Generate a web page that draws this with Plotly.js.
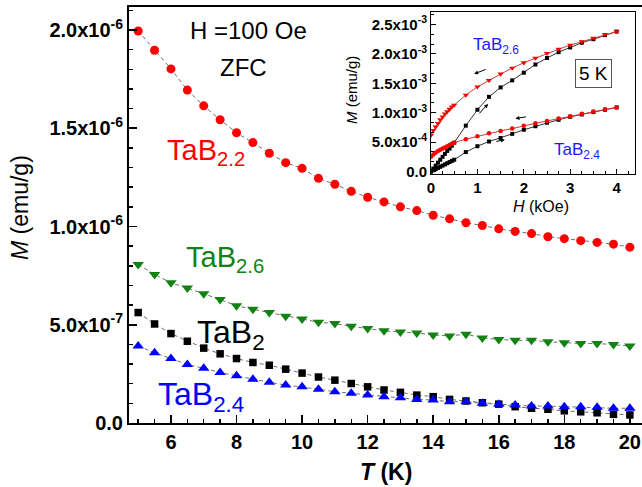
<!DOCTYPE html>
<html>
<head>
<meta charset="utf-8">
<script src="https://cdn.plot.ly/plotly-3.0.1.min.js"></script>
<style>html,body{margin:0;padding:0;background:#fff;}#chart{width:642px;height:487px;}</style>
</head>
<body>
<div id="chart"></div>
<script>
// ---- Main panel data: T (K) and M (units of 1e-6 emu/g) ----
var temperature = [5,5.5,6,6.5,7,7.5,8,8.5,9,9.5,10,10.5,11,11.5,12,12.5,13,13.5,14,14.5,15,15.5,16,16.5,17,17.5,18,18.5,19,19.5,20];
var mTaB22 = [1.995,1.897,1.802,1.694,1.614,1.543,1.477,1.427,1.373,1.325,1.296,1.245,1.215,1.179,1.149,1.125,1.100,1.081,1.057,1.039,1.019,1.005,0.988,0.975,0.964,0.948,0.938,0.928,0.919,0.910,0.895];
var mTaB26 = [0.807,0.756,0.714,0.687,0.658,0.628,0.597,0.579,0.562,0.543,0.529,0.513,0.506,0.492,0.481,0.469,0.463,0.458,0.448,0.443,0.452,0.433,0.425,0.421,0.421,0.413,0.409,0.405,0.405,0.399,0.392];
var mTaB2  = [0.562,0.504,0.455,0.416,0.381,0.352,0.328,0.308,0.294,0.274,0.254,0.234,0.218,0.201,0.184,0.168,0.156,0.142,0.134,0.120,0.112,0.103,0.096,0.083,0.075,0.070,0.062,0.057,0.052,0.044,0.041];
var mTaB24 = [0.392,0.357,0.328,0.298,0.278,0.257,0.240,0.223,0.207,0.193,0.184,0.172,0.159,0.151,0.142,0.134,0.129,0.120,0.117,0.108,0.108,0.100,0.096,0.091,0.086,0.086,0.083,0.083,0.080,0.075,0.075];
var mainUnit = 1e-6;
var mainYTickVals = [0, 5e-7, 1e-6, 1.5e-6, 2e-6];
var mainYTickText = ['0.0','5.0x10<sup>-7</sup>','1.0x10<sup>-6</sup>','1.5x10<sup>-6</sup>','2.0x10<sup>-6</sup>'];

// ---- Inset data: H (kOe) and M (units of 1e-3 emu/g) at 5 K ----
var field = [0,0.05,0.1,0.15,0.2,0.25,0.3,0.35,0.4,0.45,0.5,0.75,1,1.25,1.5,1.75,2,2.25,2.5,2.75,3,3.25,3.5,3.75,4];
var tab26Up   = [0,0.05,0.10,0.15,0.20,0.25,0.30,0.35,0.39,0.44,0.49,0.78,1.05,1.27,1.43,1.55,1.68,1.82,1.93,2.03,2.11,2.19,2.25,2.32,2.38];
var tab26Down = [0.62,0.70,0.76,0.82,0.88,0.93,0.98,1.02,1.06,1.10,1.13,1.30,1.44,1.55,1.66,1.76,1.85,1.93,2.01,2.08,2.15,2.21,2.27,2.33,2.38];
var tab24Up   = [0,0.02,0.04,0.06,0.08,0.10,0.12,0.14,0.16,0.18,0.20,0.33,0.43,0.51,0.57,0.64,0.71,0.77,0.83,0.88,0.93,0.97,1.01,1.05,1.09];
var tab24Down = [0.25,0.29,0.32,0.35,0.37,0.39,0.41,0.43,0.45,0.47,0.49,0.55,0.60,0.65,0.69,0.73,0.78,0.82,0.86,0.90,0.94,0.98,1.02,1.06,1.09];
var insetUnit = 1e-3;
var insetYTickVals = [0, 0.5e-3, 1e-3, 1.5e-3, 2e-3, 2.5e-3];
var insetYTickText = ['0.0','5.0x10<sup>-4</sup>','1.0x10<sup>-3</sup>','1.5x10<sup>-3</sup>','2.0x10<sup>-3</sup>','2.5x10<sup>-3</sup>'];

function scale(arr, u){ return arr.map(function(v){ return v*u; }); }

var FONT = 'Liberation Sans, Arial, sans-serif';
var dashLine = {color:'#6e6e6e', width:1, dash:'4px,3px'};

var traces = [
  {x:temperature, y:scale(mTaB22,mainUnit), mode:'lines+markers', line:dashLine,
   marker:{symbol:'circle', size:9, color:'#ff0000'}},
  {x:temperature, y:scale(mTaB26,mainUnit), mode:'lines+markers', line:dashLine,
   marker:{symbol:'triangle-down', size:10, color:'#128212'}},
  {x:temperature, y:scale(mTaB2,mainUnit), mode:'lines+markers', line:dashLine,
   marker:{symbol:'square', size:7.5, color:'#000000'}},
  {x:temperature, y:scale(mTaB24,mainUnit), mode:'lines+markers', line:dashLine,
   marker:{symbol:'triangle-up', size:10, color:'#0000ff'}},
  // inset
  {x:field, y:scale(tab26Up,insetUnit), xaxis:'x2', yaxis:'y2', mode:'lines+markers',
   line:{color:'#333', width:1}, marker:{symbol:'square', size:4, color:'#000'}},
  {x:field, y:scale(tab26Down,insetUnit), xaxis:'x2', yaxis:'y2', mode:'lines+markers',
   line:{color:'#d04040', width:1}, marker:{symbol:'triangle-down', size:5.5, color:'#ff0000'}},
  {x:field, y:scale(tab24Up,insetUnit), xaxis:'x2', yaxis:'y2', mode:'lines+markers',
   line:{color:'#333', width:1}, marker:{symbol:'square', size:4, color:'#000'}},
  {x:field, y:scale(tab24Down,insetUnit), xaxis:'x2', yaxis:'y2', mode:'lines+markers',
   line:{color:'#e03030', width:1}, marker:{symbol:'circle', size:4.5, color:'#ff0000'}}
];

// pixel -> paper helpers (plot area: x 129..642, y 7..423)
function px(x){ return (x-129)/513; }
function py(y){ return (423-y)/416; }

function lab(text, x, y, size, color, xanchor, yanchor, extra){
  var a = {text:text, xref:'paper', yref:'paper', x:px(x), y:py(y), showarrow:false,
    xanchor:xanchor||'left', yanchor:yanchor||'middle', font:{family:FONT, size:size, color:color||'#000'}};
  if (extra) for (var k in extra) a[k]=extra[k];
  return a;
}

function arrow(hx, hy, ax, ay){
  return {xref:'x2', yref:'y2', x:hx, y:hy*insetUnit, ax:ax, ay:ay, text:'', showarrow:true,
    arrowhead:2, arrowsize:0.8, arrowwidth:1, arrowcolor:'#000', standoff:0};
}

var annotations = [
  lab('H =100 Oe', 248, 30, 24, '#000', 'center', 'middle'),
  lab('ZFC', 243, 67, 24, '#000', 'center', 'middle'),
  lab('TaB<sub>2.2</sub>', 165, 152, 29, '#ff0000', 'left', 'middle'),
  lab('TaB<sub>2.6</sub>', 184, 259, 29, '#128212', 'left', 'middle'),
  lab('TaB<sub>2</sub>', 195, 334, 32, '#000', 'left', 'middle'),
  lab('TaB<sub>2.4</sub>', 156, 396, 32, '#0000ff', 'left', 'middle'),
  lab('<i>T</i> (K)', 386, 472, 23, '#000', 'center', 'middle', {font:{family:FONT, size:23, color:'#000', weight:'bold'}}),
  lab('<i>M</i> (emu/g)', 20, 208, 23, '#000', 'center', 'middle', {textangle:-90}),
  // inset labels
  lab('TaB<sub>2.6</sub>', 471, 46, 17, '#1a1aff', 'left', 'middle'),
  lab('TaB<sub>2.4</sub>', 552, 151, 17, '#1a1aff', 'left', 'middle'),
  lab('5 K', 593, 73, 19, '#000', 'center', 'middle', {bordercolor:'#555', borderwidth:1, borderpad:3, bgcolor:'#fff'}),
  lab('<i>H</i> (kOe)', 541, 206, 16, '#000', 'center', 'middle'),
  lab('<i>M</i> (emu/g)', 352, 90, 15, '#000', 'center', 'middle', {textangle:-90}),
  arrow(0.93, 1.66, 13, -5),
  arrow(1.23, 1.15, -10, 11),
  arrow(1.82, 0.90, 12, -2),
  arrow(1.59, 0.54, -10, 2)
];

var layout = {
  width:642, height:487,
  margin:{l:129, r:0, t:7, b:64, pad:0},
  paper_bgcolor:'#fff', plot_bgcolor:'#fff',
  showlegend:false,
  font:{family:FONT, color:'#000'},
  xaxis:{domain:[0,1], range:[4.72,20.37], tickmode:'linear', tick0:0, dtick:2,
    ticks:'inside', ticklen:8, tickwidth:1.5, tickcolor:'#000',
    minor:{dtick:0.5, tick0:0, ticks:'inside', ticklen:4, tickwidth:1.5, tickcolor:'#000'},
    showline:true, linewidth:2, linecolor:'#000', mirror:true, showgrid:false, zeroline:false,
    tickfont:{family:FONT, size:20, weight:'bold'}},
  yaxis:{domain:[0,1], range:[0,2.117e-6], tickmode:'array', tickvals:mainYTickVals, ticktext:mainYTickText,
    ticks:'inside', ticklen:8, tickwidth:1.5, tickcolor:'#000',
    minor:{dtick:1e-7, tick0:0, ticks:'inside', ticklen:4, tickwidth:1.5, tickcolor:'#000'},
    showline:true, linewidth:2, linecolor:'#000', mirror:false, showgrid:false, zeroline:false,
    tickfont:{family:FONT, size:20, weight:'bold'}},
  xaxis2:{domain:[0.5887,0.9864], anchor:'y2', range:[0,4.397], tickmode:'linear', tick0:0, dtick:1,
    ticks:'inside', ticklen:5, tickwidth:1, tickcolor:'#000',
    minor:{dtick:0.25, tick0:0, ticks:'inside', ticklen:3, tickwidth:1, tickcolor:'#000'},
    showline:true, linewidth:1, linecolor:'#000', mirror:true, showgrid:false, zeroline:false,
    tickfont:{family:FONT, size:15, weight:'bold'}},
  yaxis2:{domain:[0.5986,0.988], anchor:'x2', range:[-0.0425e-3,2.713e-3], tickmode:'array',
    tickvals:insetYTickVals, ticktext:insetYTickText,
    ticks:'inside', ticklen:5, tickwidth:1, tickcolor:'#000',
    minor:{dtick:0.5e-3/3, tick0:0, ticks:'inside', ticklen:3, tickwidth:1, tickcolor:'#000'},
    showline:true, linewidth:1, linecolor:'#000', mirror:true, showgrid:false, zeroline:false,
    tickfont:{family:FONT, size:15, weight:'bold'}},
  annotations: annotations
};

Plotly.newPlot('chart', traces, layout, {displayModeBar:false, staticPlot:true});
</script>
</body>
</html>
